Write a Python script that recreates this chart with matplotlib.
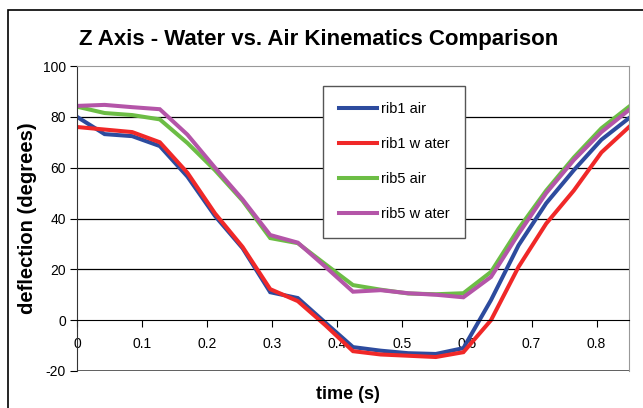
import numpy as np
import matplotlib
matplotlib.use("Agg")
import matplotlib.pyplot as plt
from matplotlib.patches import Rectangle

plt.rcParams['font.family'] = ['Liberation Sans', 'DejaVu Sans']
plt.rcParams['axes.unicode_minus'] = False

# time samples (s)
time = [0.0, 0.0425, 0.085, 0.1275, 0.17, 0.2125, 0.255, 0.2975, 0.34, 0.3825,
        0.425, 0.4675, 0.51, 0.5525, 0.595, 0.6375, 0.68, 0.7225, 0.765, 0.8075, 0.85]

# deflection (degrees)
rib1_air = [80, 73.2, 72.4, 68.5, 56.5, 41, 28.3, 11, 8.7, -1, -10.6, -12, -13,
            -13.3, -11, 7.9, 29.5, 46, 59, 71, 79.5]
rib1_water = [76, 75, 74, 70, 58, 42, 28.8, 12.2, 7.5, -2, -12.2, -13.5, -14,
              -14.5, -12.6, 0, 21, 38, 51, 66, 76]
rib5_air = [84, 81.5, 80.7, 79, 69.7, 59, 47, 32.3, 30.3, 22, 13.8, 12, 10.5,
            10.2, 10.6, 19, 36, 51, 64, 75.5, 84]
rib5_water = [84.3, 84.7, 83.8, 83, 73, 60, 47.5, 33.5, 30.5, 21, 11.2, 11.8,
              10.6, 10, 9, 17, 34, 50, 63, 74, 82.7]

labels = ["rib1 air", "rib1 w ater", "rib5 air", "rib5 w ater"]
colors = ["#2d4b9e", "#f02828", "#6cbd45", "#b455a8"]
series = [rib1_air, rib1_water, rib5_air, rib5_water]

fig = plt.figure(figsize=(6.43, 4.08), dpi=100)
# outer chart frame
fig.patches.append(Rectangle((8 / 643, -0.1), 1.2, (398 / 408) + 0.1,
                             transform=fig.transFigure, fill=False,
                             edgecolor="black", linewidth=1.2))

ax = fig.add_axes([77 / 643, 37 / 408, 552 / 643, 305 / 408])

for vals, lab, col in zip(series, labels, colors):
    ax.plot(time, vals, color=col, linewidth=2.9, label=lab, solid_joinstyle="miter")

ax.set_xlim(0, 0.85)
ax.set_ylim(-20, 100)
ax.set_yticks(np.arange(-20, 101, 20))
ax.set_xticks(np.arange(0, 0.81, 0.1))
ax.set_xticklabels(["0", "0.1", "0.2", "0.3", "0.4", "0.5", "0.6", "0.7", "0.8"])

for y in [20, 40, 60, 80]:
    ax.axhline(y, color="black", linewidth=0.9, zorder=0)

# x axis sits on the zero line
ax.spines['bottom'].set_position(('data', 0))
ax.spines['bottom'].set_color("black")
ax.spines['left'].set_color("#333333")
ax.spines['top'].set_color("#999999")
ax.spines['right'].set_color("#999999")
ax.axhline(-20, color="#444444", linewidth=1.2, zorder=0)
ax.tick_params(axis='x', direction='out', length=5, pad=7, labelsize=10, color="black")
ax.tick_params(axis='y', direction='out', length=5, pad=3, labelsize=10, color="black")

fig.text(319 / 643, 1 - 40 / 408, "Z Axis - Water vs. Air Kinematics Comparison",
         fontsize=16, fontweight="bold", ha="center", va="center")
ax.set_ylabel("deflection (degrees)", fontsize=14.5, fontweight="bold")
ax.yaxis.set_label_coords(-0.072, 0.5)
ax.set_xlabel("time (s)", fontsize=13, fontweight="bold")
ax.xaxis.set_label_coords(0.49, -0.05)

leg = ax.legend(loc="upper left", bbox_to_anchor=((323 - 77) / 552, (371 - 86) / 305),
                fontsize=10.5, frameon=True, fancybox=False, handlelength=2.6,
                labelspacing=1.45, borderpad=1.1, handletextpad=0.25, borderaxespad=0)
leg.get_frame().set_edgecolor("#555555")
leg.get_frame().set_linewidth(1.0)
leg.get_frame().set_alpha(1)

fig.savefig("out.png", dpi=100)
